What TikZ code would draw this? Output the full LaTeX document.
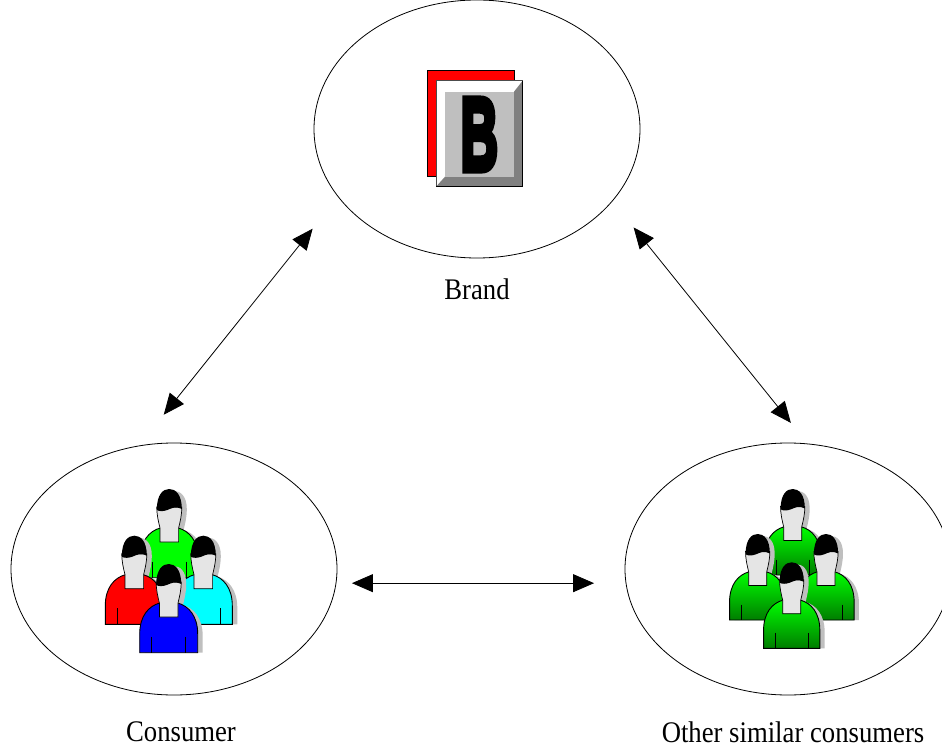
\documentclass[tikz,border=0pt]{standalone}
\usepackage{fontspec}
\setmainfont{Liberation Serif}
\newfontfamily\brandfont[BoldFeatures={FakeBold=7}]{Liberation Sans}
\usetikzlibrary{arrows.meta,positioning,shapes.geometric}

\definecolor{shirtcyan}{RGB}{0,255,255}
\definecolor{shirtgreen}{RGB}{0,255,0}
\definecolor{shirtred}{RGB}{255,0,0}
\definecolor{shirtblue}{RGB}{0,0,255}
\definecolor{shirtdark}{RGB}{0,125,0}

\tikzset{
  blob/.style={draw,line width=.8pt,ellipse,minimum width=326pt,minimum height=#1,inner sep=0pt,outer sep=0pt},
  caption/.style={font=\fontsize{26.7}{30}\selectfont,inner sep=0pt,yscale=1.12},
  link/.style={<->,line width=.8pt},
  facecol/.style={fill=black!10},
  pics/person/.style={code={
    % shadow first, then shirt, head and hair
    \fill[black!25,shift={(5,2)}] (-29,86.7) -- (-29,70) .. controls (-29,52) and (-20,42) .. (-9.3,39)
      .. controls (-11,32) and (-12.5,26) .. (-12.5,18) .. controls (-12.5,5) and (-6,0) .. (0,0)
      .. controls (6,0) and (12.5,5) .. (12.5,18) .. controls (12.5,26) and (11,32) .. (9.3,39)
      .. controls (20,42) and (29,52) .. (29,70) -- (29,86.7) -- cycle;
    \draw[line width=.9pt,#1] (-29,88.7) -- (-29,70) .. controls (-29,52) and (-20,42) .. (-9,39)
      -- (9,39) .. controls (20,42) and (29,52) .. (29,70) -- (29,88.7) -- cycle;
    \draw[line width=.7pt] (-17,72.7) -- (-17,88.7) (17,72.7) -- (17,88.7);
    \draw[facecol,line width=.7pt] (-9.3,53) -- (-9.3,39) .. controls (-11,32) and (-12.5,26) .. (-12.5,18)
      -- (12.5,18) .. controls (12.5,26) and (11,32) .. (9.3,39) -- (9.3,53) -- cycle;
    \fill (-12.5,21) .. controls (-12.5,5) and (-6,0) .. (0,0) .. controls (6,0) and (12.5,5) .. (12.5,20)
      .. controls (6,17) and (3,19) .. (-2,21) .. controls (-6,22.5) and (-10,22.5) .. (-12.5,21) -- cycle;
  }},
  glow/.style={top color=shirtgreen,bottom color=shirtdark},
}

\begin{document}
\begin{tikzpicture}[x=1pt,y=-1pt,>={Stealth[length=21pt,width=18pt,inset=0pt]}]
  \useasboundingbox (0,0) rectangle (942,751);

  \node[blob=258pt] (brand) at (477,129) {};
  \node[blob=252pt] (consumer) at (174,569) {};
  \node[blob=252pt] (others) at (788,569) {};

  \node[caption,below=21pt of brand] (brandname) {Brand};
  \node[caption] (consumername) at (181,732) {Consumer};
  \node[caption] (othersname) at (793,732) {Other similar consumers};

  \draw[link,shorten <=40pt,shorten >=41pt] (consumer.106.3) -- (brand.206.7);
  \draw[link,shorten <=34pt,shorten >=27pt] (brand.-28.9) -- (others.81.4);
  \draw[link,shorten <=16pt,shorten >=32pt] (consumer.-5.2) -- (others.185.2);

  % brand icon
  \draw[line width=.8pt,fill=shirtred] (427,70) rectangle (514,176.7);
  \fill[white] (436,80.7) rectangle (522.7,186.7);
  \fill[black!50] (522.7,80.7) -- (514,91.7) -- (514,176.7) -- (445,176.7) -- (436,186.7) -- (522.7,186.7) -- cycle;
  \fill[black!25] (445,91.7) rectangle (514,176.7);
  \draw[black!70] (436,186.7) -- (436,80.7) -- (522.7,80.7);
  \draw[line width=1.4pt] (522.7,80.7) -- (522.7,186.7) -- (436,186.7);
  \node[inner sep=0pt,xscale=.5] (brandletter) at (479.3,134.5) {\fontsize{103}{103}\brandfont\bfseries B};

  % consumer group
  \pic at (169.3,489) {person={fill=shirtgreen}};
  \pic at (134.3,535.7) {person={fill=shirtred}};
  \pic at (203.3,535.7) {person={fill=shirtcyan}};
  \pic at (168.7,564) {person={fill=shirtblue}};

  % similar consumers
  \pic[scale=.97] at (792.7,489) {person={glow}};
  \pic[scale=.97] at (757.7,534) {person={glow}};
  \pic[scale=.97] at (826,534) {person={glow}};
  \pic[scale=.97] at (791.7,562.3) {person={glow}};
\end{tikzpicture}
\end{document}
